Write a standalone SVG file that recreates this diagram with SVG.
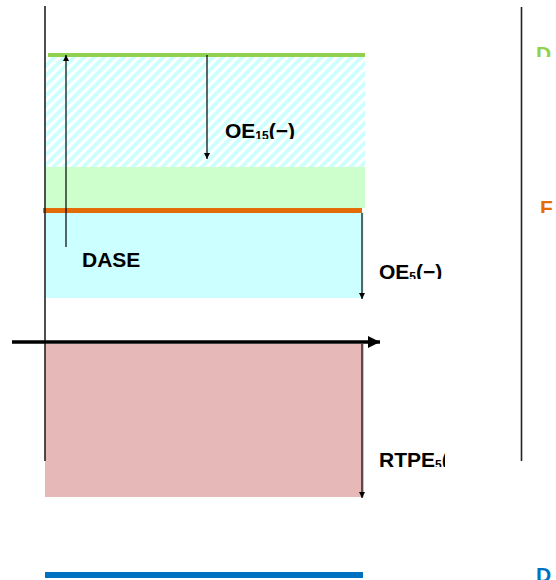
<svg xmlns="http://www.w3.org/2000/svg" width="556" height="580" viewBox="0 0 556 580">
<style>
.lbl{font-family:"Liberation Sans",Arial,sans-serif;font-weight:bold;font-size:21px;fill:#000}
.sub{font-size:12px}
.thin{stroke:#000;stroke-width:1.2;fill:none}
.frame{stroke:#222;stroke-width:1.6;fill:none}
</style>
<defs>
<pattern id="hatch" patternUnits="userSpaceOnUse" width="7" height="7" patternTransform="rotate(45)">
<rect width="7" height="7" fill="#ffffff"/>
<rect width="3.8" height="7" fill="#ccffff"/>
</pattern>
<marker id="ah" viewBox="0 0 10 10" refX="10" refY="5" markerWidth="6" markerHeight="6" markerUnits="userSpaceOnUse" orient="auto">
<path d="M0,0 L10,5 L0,10 Z" fill="#000"/>
</marker>
<marker id="bigah" viewBox="0 0 12 12" refX="12" refY="6" markerWidth="12" markerHeight="12" markerUnits="userSpaceOnUse" orient="auto">
<path d="M0,0 L12,6 L0,12 Z" fill="#000"/>
</marker>
<clipPath id="c15"><rect x="220" y="110" width="100" height="29"/></clipPath>
<clipPath id="c5"><rect x="375" y="255" width="72" height="24"/></clipPath>
<clipPath id="cr"><rect x="375" y="440" width="70" height="27"/></clipPath>
<clipPath id="cd1"><rect x="530" y="40" width="26" height="17"/></clipPath>
<clipPath id="cf"><rect x="530" y="190" width="26" height="23"/></clipPath>
</defs>

<g id="regions">
<rect id="hatch-region" x="46" y="57" width="319" height="110" fill="url(#hatch)"/>
<rect id="green-region" x="46" y="167" width="319" height="41" fill="#ccffcc"/>
<rect id="cyan-region" x="46" y="212" width="318" height="86" fill="#ccffff"/>
<rect id="pink-region" x="45" y="344" width="319" height="153" fill="#e6b8b7"/>
</g>

<g id="levels">
<line id="green-level" x1="48" y1="55" x2="365" y2="55" stroke="#92d050" stroke-width="4"/>
<line id="orange-level" x1="43" y1="210.5" x2="362" y2="210.5" stroke="#e36c09" stroke-width="5"/>
<line id="blue-level" x1="45" y1="575" x2="363" y2="575" stroke="#0070c0" stroke-width="6"/>
</g>

<g id="frame">
<line class="frame" x1="45" y1="6" x2="45" y2="461"/>
<line class="frame" x1="521.5" y1="7" x2="521.5" y2="461"/>
</g>

<g id="connectors">
<line id="axis" x1="12" y1="342" x2="380" y2="342" stroke="#000" stroke-width="3.5" marker-end="url(#bigah)"/>
<line id="dase-arrow" class="thin" x1="66" y1="247" x2="66" y2="55" marker-end="url(#ah)"/>
<line id="oe15-arrow" class="thin" x1="207" y1="55" x2="207" y2="159" marker-end="url(#ah)"/>
<line id="oe5-arrow" class="thin" x1="362" y1="213" x2="362" y2="299" marker-end="url(#ah)"/>
<line id="rtpe-arrow" class="thin" x1="362" y1="344" x2="362" y2="498" marker-end="url(#ah)"/>
</g>

<g id="labels">
<g id="label-oe15" clip-path="url(#c15)"><text class="lbl" x="225" y="138">OE<tspan class="sub" dy="2">15</tspan><tspan dy="-2">(−)</tspan></text></g>
<g id="label-dase"><text class="lbl" x="82" y="267">DASE</text></g>
<g id="label-oe5" clip-path="url(#c5)"><text class="lbl" x="379" y="279">OE<tspan class="sub" dy="2">5</tspan><tspan dy="-2">(−)</tspan></text></g>
<g id="label-rtpe" clip-path="url(#cr)"><text class="lbl" x="379" y="467">RTPE<tspan class="sub" dy="2">5</tspan><tspan dy="-2">(</tspan></text></g>
<g id="label-d-top" clip-path="url(#cd1)"><text class="lbl" x="536" y="61" style="fill:#92d050">D</text></g>
<g id="label-f" clip-path="url(#cf)"><text class="lbl" x="540" y="215" style="fill:#e36c09">F</text></g>
<g id="label-d-bottom"><text class="lbl" x="536" y="582" style="fill:#0070c0">D</text></g>
</g>
</svg>
